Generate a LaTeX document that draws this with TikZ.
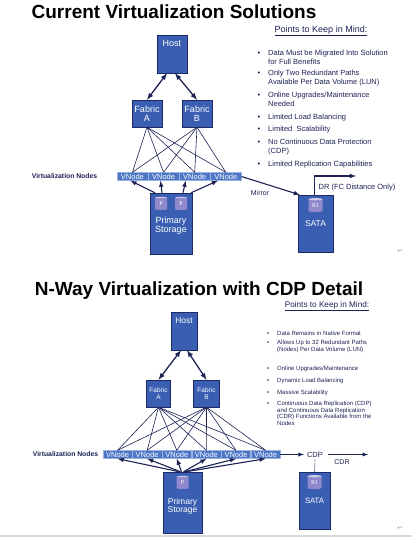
\documentclass[tikz,border=0pt]{standalone}
\usepackage{fontspec}
\setmainfont{Liberation Sans}
\newfontfamily\serifP{Liberation Serif}
\newfontfamily\symfont{DejaVu Sans}
\usetikzlibrary{positioning, arrows, shapes.geometric}
\definecolor{boxblue}{HTML}{3A5FB2}
\definecolor{boxline}{HTML}{1E2A66}
\definecolor{barblue}{HTML}{4C76C6}
\definecolor{navy}{HTML}{1C2254}
\definecolor{cylpurple}{HTML}{9088CC}
\newcommand{\fs}[1]{\fontsize{#1}{#1}\selectfont}
\newcommand{\bul}{\llap{\textbullet\hspace{8pt}}}
\tikzset{
x=1pt, y=-1pt, % one unit is one pixel of the page
box/.style={draw=boxline, fill=boxblue, text=white, align=center, inner sep=0pt}, % the blue boxes
vnode/.style={draw=barblue!55!white, fill=barblue, text=white, minimum height=8pt, inner sep=0pt, font=\fs{7.5}}, % one cell of the node bar
fan/.style={draw=navy, line width=0.6pt}, % fabric to node lines
dbl/.style={latex-latex, draw=navy, line width=1.3pt}, % host to fabric
up/.style={-latex, draw=navy, line width=1.1pt}, % storage paths
cyl/.style={cylinder, shape border rotate=90, aspect=0.35, cylinder uses custom fill, cylinder body fill=cylpurple, cylinder end fill=cylpurple!45!white, text=white, minimum width=12pt, minimum height=13pt, inner sep=0pt, font=\serifP\fs{6}},
pta/.style={anchor=north west, align=left, text=navy, inner sep=0pt, font=\fontsize{7.5}{9}\selectfont}, % upper list
ptb/.style={anchor=north west, align=left, text=navy, inner sep=0pt, font=\fontsize{6}{6.6}\selectfont}, % lower list
lbl/.style={text=navy, inner sep=0pt},
}
\begin{document}
\begin{tikzpicture}
\useasboundingbox (0,0) rectangle (412,539);
% first picture
\node[anchor=base, font=\bfseries\fs{19}] (t1) at (174,18) {Current Virtualization Solutions};
\node[anchor=base, lbl, font=\fs{9}] (k1) at (321,32) {\underline{Points to Keep in Mind:}};
\node[box, minimum width=30pt, minimum height=38pt, label={[anchor=north, text=white, yshift=-2pt, font=\fs{9}]north:Host}] (h1) at (172,54) {};
\node[box, minimum width=30pt, minimum height=27pt, font=\fs{9}] (a1) at (147,113.5) {Fabric\\A};
\node[box, minimum width=30pt, minimum height=27pt, font=\fs{9}] (b1) at (197,113.5) {Fabric\\B};
\node[vnode, minimum width=30.75pt] (v11) at (132.4,176.5) {VNode};
\node[vnode, minimum width=30.75pt, right=0pt of v11] (v12) {VNode};
\node[vnode, minimum width=30.75pt, right=0pt of v12] (v13) {VNode};
\node[vnode, minimum width=30.75pt, right=0pt of v13] (v14) {VNode};
\node[lbl, font=\bfseries\fs{6.8}] (vl1) at (64.5,176.5) {Virtualization Nodes};
\node[box, minimum width=42pt, minimum height=61pt, label={[text=white, align=center, font=\fs{9}, yshift=-2pt]center:{Primary\\Storage}}] (p1) at (171,223.5) {};
\node[cyl] (c11) at ([xshift=-10pt,yshift=-11pt]p1.north) {P};
\node[cyl] (c12) at ([xshift=10pt,yshift=-11pt]p1.north) {P};
\node[box, minimum width=35pt, minimum height=57pt, font=\fs{8.5}] (s1) at (315.5,223.5) {SATA};
\node[cyl, minimum width=14pt, minimum height=14pt] (r1) at ([yshift=-11pt]s1.north) {R1};
\node[lbl, font=\fs{7}] (m1) at (260,193) {Mirror};
\coordinate (dr) at (356,176);
\node[lbl, font=\fs{7.5}] (d1) at (357,187.5) {DR (FC Distance Only)};
\draw[dbl] ([xshift=-5pt]h1.south) -- (a1.north);
\draw[dbl] ([xshift=3pt]h1.south) -- (b1.north);
\draw[fan] (a1.south) edge (v11.north) (a1.south) edge (v12.north) (a1.south) edge (v13.north) (a1.south) edge (v14.north)
  (b1.south) edge (v11.north) (b1.south) edge (v12.north) (b1.south) edge (v13.north) (b1.south) edge (v14.north);
\draw[up] ([xshift=-16pt]p1.north) -- ([xshift=-2pt]v11.south);
\draw[up] ([xshift=-9pt]p1.north) -- ([xshift=-3pt]v12.south);
\draw[up] ([xshift=12pt]p1.north) -- ([xshift=-9pt]v13.south);
\draw[up] ([xshift=20pt]p1.north) -- ([xshift=-8pt]v14.south);
\draw[up] (v14.east) -- ([xshift=2pt]s1.north west);
\draw[up] ([xshift=-1pt]s1.north) |- (dr);
\node[pta] (pa1) at (268,50) {\bul Data Must be Migrated Into Solution\\for Full Benefits};
\node[pta] (pa2) at (268,70) {\bul Only Two Redundant Paths\\Available Per Data Volume (LUN)};
\node[pta] (pa3) at (268,92) {\bul Online Upgrades/Maintenance\\Needed};
\node[pta] (pa4) at (268,114) {\bul Limited Load Balancing};
\node[pta] (pa5) at (268,126) {\bul Limited\ \ Scalability};
\node[pta] (pa6) at (268,139) {\bul No Continuous Data Protection\\(CDP)};
\node[pta] (pa7) at (268,161) {\bul Limited Replication Capabilities};
\node[text=gray!70, font=\symfont\fs{7}] (ret1) at (400,251) {↵};
% second picture
\node[anchor=base, font=\bfseries\fs{19}] (t2) at (199,295) {N-Way Virtualization with CDP Detail};
\node[anchor=base, lbl, font=\fs{8.2}] (k2) at (327,307) {\underline{Points to Keep in Mind:}};
\node[box, minimum width=26pt, minimum height=38pt, label={[anchor=north, text=white, yshift=-2pt, font=\fs{8.4}]north:Host}] (h2) at (184,331) {};
\node[box, minimum width=24pt, minimum height=27pt, font=\fs{6.5}] (a2) at (158.5,393.5) {Fabric\\A};
\node[box, minimum width=26pt, minimum height=27pt, font=\fs{6.5}] (b2) at (206.5,393.5) {Fabric\\B};
\node[vnode, minimum width=29.2pt] (v21) at (117.6,454.5) {VNode};
\node[vnode, minimum width=29.2pt, right=0pt of v21] (v22) {VNode};
\node[vnode, minimum width=29.2pt, right=0pt of v22] (v23) {VNode};
\node[vnode, minimum width=29.2pt, right=0pt of v23] (v24) {VNode};
\node[vnode, minimum width=29.2pt, right=0pt of v24] (v25) {VNode};
\node[vnode, minimum width=29.2pt, right=0pt of v25] (v26) {VNode};
\node[lbl, font=\bfseries\fs{6.8}] (vl2) at (65.5,454.5) {Virtualization Nodes};
\node[box, minimum width=39pt, minimum height=61pt, label={[text=white, align=center, font=\fs{8.5}, yshift=-4pt]center:{Primary\\Storage}}] (p2) at (182.5,502.5) {};
\node[cyl] (c21) at ([yshift=-11pt]p2.north) {P};
\node[box, minimum width=31pt, minimum height=57pt, font=\fs{7.7}] (s2) at (314.5,500.5) {SATA};
\node[cyl, minimum width=14pt, minimum height=14pt] (r2) at ([yshift=-11pt]s2.north) {R1};
\node[lbl, font=\fs{7.5}] (cdp) at (315,454.5) {CDP};
\node[lbl, font=\fs{7}] (cdr1) at (342,462.5) {CDR};
\coordinate (cdr) at (368,454.5);
\draw[dbl] ([xshift=-3pt]h2.south) -- (a2.north);
\draw[dbl] ([xshift=3pt]h2.south) -- (b2.north);
\draw[fan] (a2.south) edge (v21.north) (a2.south) edge (v22.north) (a2.south) edge (v23.north) (a2.south) edge (v24.north) (a2.south) edge (v25.north) (a2.south) edge (v26.north)
  (b2.south) edge (v21.north) (b2.south) edge (v22.north) (b2.south) edge (v23.north) (b2.south) edge (v24.north) (b2.south) edge (v25.north) (b2.south) edge (v26.north);
\draw[up] ([xshift=-3pt]p2.north) -- (v21.south);
\draw[up] ([xshift=-2pt]p2.north) -- (v22.south);
\draw[up] ([xshift=-1pt]p2.north) -- (v23.south);
\draw[up] ([xshift=1pt]p2.north) -- (v24.south);
\draw[up] ([xshift=2pt]p2.north) -- (v25.south);
\draw[up] ([xshift=3pt]p2.north) -- (v26.south);
\draw[up, line width=0.9pt] (v26.east) -- ([xshift=-3pt]cdp.west);
\draw[up, line width=0.9pt] ([xshift=5pt]cdp.east) -- (cdr);
\draw[draw=navy!60, line width=0.6pt] ([yshift=-2pt]cdp.south) -- (s2.north);
\node[ptb] (pb1) at (277,331) {\bul Data Remains in Native Format};
\node[ptb] (pb2) at (277,340) {\bul Allows Up to 32 Redundant Paths\\(Nodes) Per Data Volume (LUN)};
\node[ptb] (pb3) at (277,366) {\bul Online Upgrades/Maintenance};
\node[ptb] (pb4) at (277,378) {\bul Dynamic Load Balancing};
\node[ptb] (pb5) at (277,390) {\bul Massive Scalability};
\node[ptb] (pb6) at (277,401) {\bul Continuous Data Replication (CDP)\\and Continuous Data Replication\\(CDR) Functions Available from the\\Nodes};
\node[text=gray!70, font=\symfont\fs{7}] (ret2) at (400,528) {↵};
\fill[gray!30] (0,534.5) rectangle (412,536.5);
\end{tikzpicture}
\end{document}
